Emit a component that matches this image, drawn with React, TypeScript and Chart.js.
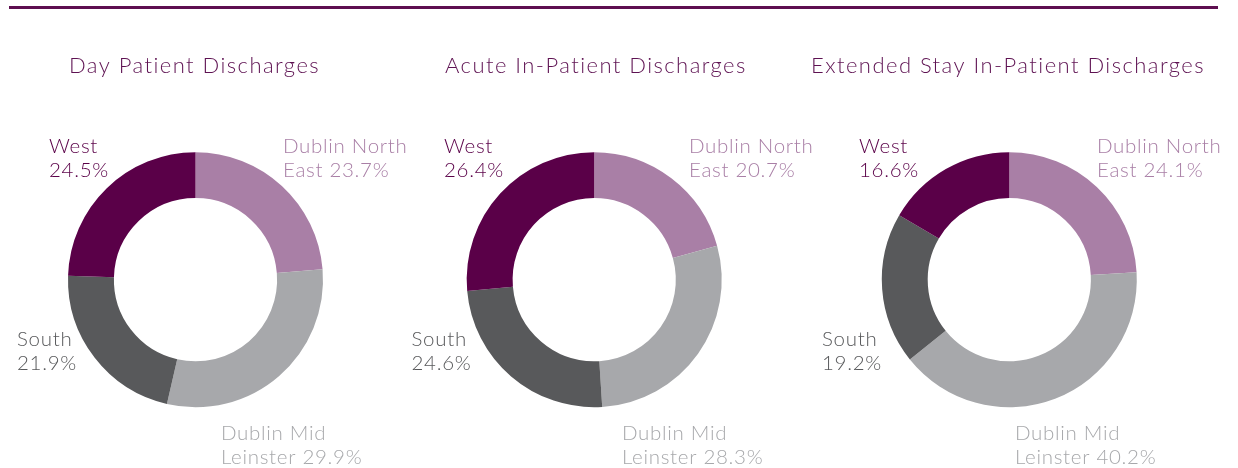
import React, { useEffect, useRef } from "react";
import { Chart, registerables } from "chart.js";

Chart.register(...registerables);

// ---- data ----
const regions = ["Dublin North East", "Dublin Mid Leinster", "South", "West"];
const labelFirstLine = ["Dublin North", "Dublin Mid", "South", "West"];
const labelSecondPrefix = ["East ", "Leinster ", "", ""];
const chartTitles = [
  "Day Patient Discharges",
  "Acute In-Patient Discharges",
  "Extended Stay In-Patient Discharges",
];
const dayPatient = [23.7, 29.9, 21.9, 24.5];
const acuteInPatient = [20.7, 28.3, 24.6, 26.4];
const extendedStay = [24.1, 40.2, 19.2, 16.6];
const seriesList = [dayPatient, acuteInPatient, extendedStay];

// ---- styles / layout ----
const W = 1238;
const H = 468;
const arcColors = ["#a97fa6", "#a7a8ab", "#58595b", "#5a0048"];
const textColors = ["#a97fa6", "#a7a8ab", "#58595b", "#5a0048"];
const titleColor = "#5e1252";
const FONT = "Lato, 'Open Sans', sans-serif";
const centersX = [195.5, 594.2, 1009.3];
const centerY = 279.7;
const radius = 127.5;
const titleX = [69, 445, 811];
const titleBaseline = 73;
// label anchors [x, baseline] per chart per region
const labelAnchors = [
  [[283, 153], [221, 440], [17, 346], [49, 153]],
  [[689, 153], [622, 440], [411.5, 346], [444, 153]],
  [[1097, 153], [1015, 440], [822, 346], [859, 153]],
];
const lineGap = 24;

function makeTextPlugin(idx: number) {
  return {
    id: "textOverlay" + idx,
    afterDraw(chart: any) {
      const ctx = chart.ctx;
      ctx.save();
      ctx.textBaseline = "alphabetic";
      ctx.textAlign = "left";
      ctx.fillStyle = titleColor;
      ctx.font = `300 22px ${FONT}`;
      (ctx as any).letterSpacing = "1.45px";
      ctx.fillText(chartTitles[idx], titleX[idx], titleBaseline);
      ctx.font = `300 20.5px ${FONT}`;
      (ctx as any).letterSpacing = "0.7px";
      const data = seriesList[idx];
      regions.forEach((_, i) => {
        const [x, y] = labelAnchors[idx][i];
        ctx.fillStyle = textColors[i];
        ctx.fillText(labelFirstLine[i], x, y);
        ctx.fillText(labelSecondPrefix[i] + data[i].toFixed(1) + "%", x, y + lineGap);
      });
      ctx.restore();
    },
  };
}

function Donut({ idx }: { idx: number }) {
  const ref = useRef<HTMLCanvasElement>(null);
  useEffect(() => {
    const cx = centersX[idx];
    const chart = new Chart(ref.current!, {
      type: "doughnut",
      data: {
        labels: regions,
        datasets: [
          {
            data: seriesList[idx],
            backgroundColor: arcColors,
            borderWidth: 0,
          },
        ],
      },
      options: {
        responsive: false,
        animation: false,
        cutout: "64%",
        layout: {
          padding: {
            left: cx - radius,
            right: W - (cx + radius),
            top: centerY - radius,
            bottom: H - (centerY + radius),
          },
        },
        plugins: {
          legend: { display: false },
          tooltip: { enabled: false },
          title: { display: false },
        },
      },
      plugins: [makeTextPlugin(idx)],
    });
    return () => chart.destroy();
  }, [idx]);
  return (
    <canvas
      ref={ref}
      width={W}
      height={H}
      style={{ position: "absolute", left: 0, top: 0, width: W, height: H }}
    />
  );
}

export default function App() {
  return (
    <div
      style={{
        position: "fixed",
        left: 0,
        top: 0,
        width: W,
        height: H,
        background: "#ffffff",
        overflow: "hidden",
      }}
    >
      <div
        style={{
          position: "absolute",
          left: 9,
          top: 6,
          width: 1209,
          height: 3,
          background: "#5e0f50",
        }}
      />
      {[0, 1, 2].map((i) => (
        <Donut key={i} idx={i} />
      ))}
    </div>
  );
}
